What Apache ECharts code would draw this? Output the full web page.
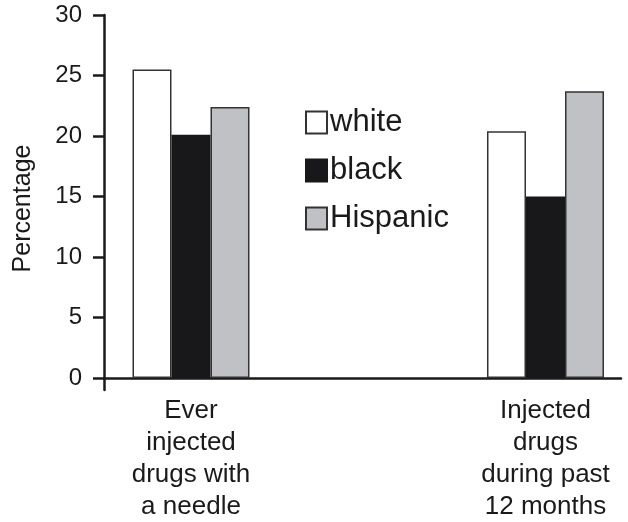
<!DOCTYPE html>
<html>
<head>
<meta charset="utf-8">
<script src="https://cdn.jsdelivr.net/npm/echarts@6/dist/echarts.min.js"></script>
<style>
  html, body { margin: 0; padding: 0; background: #fff; }
  #main { width: 628px; height: 522px; }
</style>
</head>
<body>
<div id="main"></div>
<script>
var categories = ["Ever\ninjected\ndrugs with\na needle", "Injected\ndrugs\nduring past\n12 months"];
var groupNames = ["white", "black", "Hispanic"];
var whiteValues = [25.5, 20.4];
var blackValues = [20.1, 15.0];
var hispanicValues = [22.4, 23.7];
var yTicks = [0, 5, 10, 15, 20, 25, 30];

var chartDom = document.getElementById("main");
var myChart = echarts.init(chartDom);
var font = "'Liberation Sans', Arial, sans-serif";
var ink = "#1a1a1a";

// category i sits at x = i + 1 on a value axis, so the groups can be off-centre
function toPoints(values) {
  return values.map(function (v, i) { return [i + 1, v]; });
}
var catPositions = categories.map(function (c, i) { return i + 1; });

function barSeries(name, values, fill, border) {
  return {
    name: name,
    type: "bar",
    barWidth: 39,
    barGap: "0%",
    itemStyle: { color: fill, borderColor: border, borderWidth: 1.5 },
    data: toPoints(values)
  };
}

var option = {
  animation: false,
  backgroundColor: "#fff",
  textStyle: { fontFamily: font, color: ink },
  grid: { left: 104, right: 7, top: 15, bottom: 132, outerBoundsMode: "none", containLabel: false },
  legend: {
    orient: "vertical",
    left: 300,
    top: 102,
    itemWidth: 21,
    itemHeight: 22,
    itemGap: 17,
    icon: "rect",
    data: groupNames,
    textStyle: { fontFamily: font, fontSize: 31, color: ink, padding: [0, 0, 0, -2] }
  },
  xAxis: {
    type: "value",
    min: 0.7546,
    max: 2.213,
    axisLine: { show: true, onZero: true, lineStyle: { color: ink, width: 2.5 } },
    axisTick: { show: false },
    splitLine: { show: false },
    axisLabel: {
      customValues: catPositions,
      margin: 5,
      fontSize: 26,
      lineHeight: 32,
      color: ink,
      fontFamily: font,
      formatter: function (v) { return categories[Math.round(v) - 1]; }
    }
  },
  yAxis: {
    type: "value",
    min: -1,
    max: 30,
    name: "Percentage",
    nameLocation: "middle",
    nameRotate: 90,
    nameGap: 68,
    nameTextStyle: { fontSize: 25, color: ink, fontFamily: font, padding: [0, 12, 0, 0] },
    axisLine: { show: true, lineStyle: { color: ink, width: 2.5 } },
    axisTick: { show: true, customValues: yTicks, length: 11, lineStyle: { color: ink, width: 2.5 } },
    splitLine: { show: false },
    axisLabel: { customValues: yTicks, margin: 22, fontSize: 24, color: ink, fontFamily: font }
  },
  series: [
    barSeries(groupNames[0], whiteValues, "#ffffff", "#333333"),
    barSeries(groupNames[1], blackValues, "#18181a", "#18181a"),
    barSeries(groupNames[2], hispanicValues, "#c0c1c4", "#333333")
  ]
};

option && myChart.setOption(option);
</script>
</body>
</html>
